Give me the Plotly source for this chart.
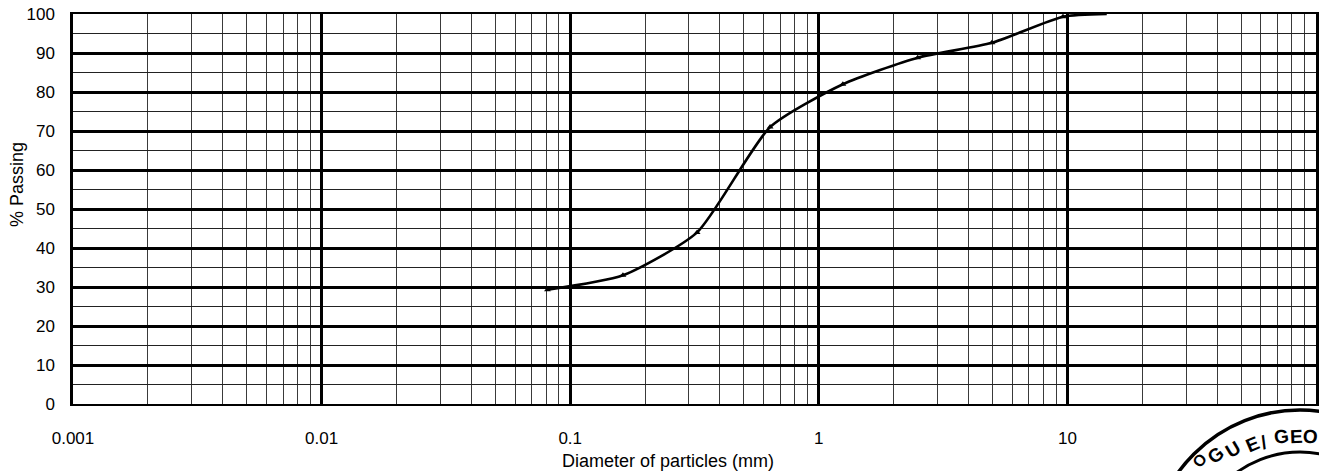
import numpy as np
import plotly.graph_objects as go

# ---- data ----
diameter_mm = [0.081, 0.163, 0.324, 0.637, 1.25, 2.5, 4.97, 9.6, 14.4]
percent_passing = [29.3, 33.0, 44.0, 71.0, 82.0, 88.8, 92.6, 99.3, 100.0]

x_tick_vals = [0.001, 0.01, 0.1, 1, 10]
x_tick_text = ["0.001", "0.01", "0.1", "1", "10"]
y_tick_vals = [0, 10, 20, 30, 40, 50, 60, 70, 80, 90, 100]

x_title = "Diameter of particles (mm)"
y_title = "% Passing"

stamp_letters = ["O", "G", "U", "E", "/", "G", "E", "O"]
stamp_angles = [-49, -40, -31, -23, -18, -8, -2, 6]

FONT = "Liberation Sans, Arial, sans-serif"

fig = go.Figure()
fig.add_trace(go.Scatter(
    x=diameter_mm, y=percent_passing,
    mode="lines",
    line=dict(color="black", width=2.6, shape="spline", smoothing=0.6),
    hoverinfo="skip", showlegend=False,
))
fig.add_trace(go.Scatter(
    x=diameter_mm[:-1], y=percent_passing[:-1],
    mode="markers",
    marker=dict(symbol="triangle-up", size=6, color="black"),
    showlegend=False,
))

# plot area in pixels
L, R, T, B = 73, 1316, 14, 404
W, H = 1319, 471

def px_to_paper(px, py):
    return (px - L) / (R - L), (B - py) / (B - T)

# stamp (scan artefact, bottom right)
cx, cy = px_to_paper(1300, 560)
shapes = []
for r, w in [(150, 3.5), (108, 3)]:
    shapes.append(dict(type="circle", xref="paper", yref="paper",
                       xsizemode="pixel", ysizemode="pixel",
                       xanchor=cx, yanchor=cy, x0=-r, x1=r, y0=-r, y1=r,
                       line=dict(color="black", width=w), layer="above"))

annotations = [
    dict(text=x_title, xref="paper", yref="paper",
         x=px_to_paper(668, 0)[0], y=px_to_paper(0, 461)[1],
         showarrow=False, xanchor="center", yanchor="middle",
         font=dict(family=FONT, size=18, color="black")),
    dict(text=y_title, xref="paper", yref="paper",
         x=px_to_paper(17, 0)[0], y=px_to_paper(0, 185)[1],
         showarrow=False, xanchor="center", yanchor="middle", textangle=-90,
         font=dict(family=FONT, size=18, color="black")),
]
letter_pos = [(1200, 461), (1215, 455), (1233, 449), (1252, 444),
              (1264, 442), (1281, 437), (1296, 436), (1310, 436)]
letter_sizes = [16, 19, 19, 19, 19, 19, 19, 19]
for ch, ang, (lx, ly), fs in zip(stamp_letters, stamp_angles, letter_pos, letter_sizes):
    ax_, ay_ = px_to_paper(lx, ly)
    annotations.append(dict(text="<b>%s</b>" % ch, xref="paper", yref="paper",
                            x=ax_, y=ay_, showarrow=False, textangle=ang,
                            xanchor="center", yanchor="middle",
                            font=dict(family=FONT, size=fs, color="black")))

fig.update_layout(
    width=W, height=H,
    margin=dict(l=L, r=W - R, t=T, b=H - B, autoexpand=False),
    paper_bgcolor="white", plot_bgcolor="white",
    shapes=shapes, annotations=annotations,
    font=dict(family=FONT, size=17, color="black"),
)
fig.update_xaxes(
    type="log", range=[-3, 2], automargin=False,
    tickvals=x_tick_vals, ticktext=x_tick_text,
    showgrid=True, gridcolor="black", gridwidth=2.5,
    minor=dict(dtick="D1", showgrid=True, gridcolor="#3a3a3a", gridwidth=1),
    showline=True, linecolor="black", linewidth=2, mirror=True,
    ticks="", ticklabelstandoff=18, zeroline=False,
    tickfont=dict(family=FONT, size=17),
)
fig.update_yaxes(
    range=[0, 100], tickvals=y_tick_vals, automargin=False,
    showgrid=True, gridcolor="black", gridwidth=2.5,
    minor=dict(dtick=5, showgrid=True, gridcolor="#222", gridwidth=1.3),
    showline=True, linecolor="black", linewidth=2.5, mirror=True,
    ticks="", ticklabelstandoff=12, zeroline=False,
    tickfont=dict(family=FONT, size=17),
)

fig.write_html(
    "out.html",
    config={"displayModeBar": False},
    post_script="document.body.style.margin='0';document.body.style.overflow='hidden';",
)
